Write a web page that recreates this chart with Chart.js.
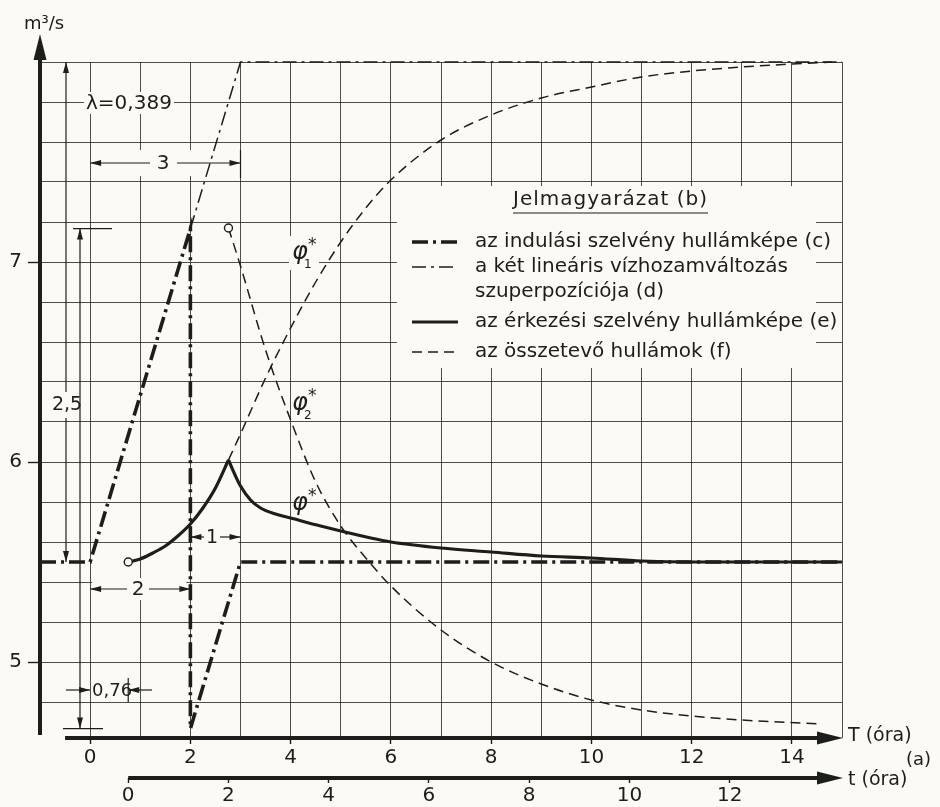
<!DOCTYPE html>
<html>
<head>
<meta charset="utf-8">
<script src="https://cdn.jsdelivr.net/npm/chart.js@4.4.1/dist/chart.umd.min.js"></script>
<style>
  html, body { margin: 0; padding: 0; background: #fbfaf5; }
  #wrap { width: 940px; height: 807px; position: relative; }
</style>
</head>
<body>
<div id="wrap"><canvas id="hydro"></canvas></div>
<script>
// axes: T (óra) grid and labels, t (óra) labels, Q (m3/s) grid and labels
const gridT = [-1, 0, 1, 2, 3, 4, 5, 6, 7, 8, 9, 10, 11, 12, 13, 14, 15];
const labelT = [0, 2, 4, 6, 8, 10, 12, 14];
const labelSmallT = [0, 2, 4, 6, 8, 10, 12];
const tShift = 0.76;
const gridQ = [4.8, 5, 5.2, 5.4, 5.6, 5.8, 6, 6.2, 6.4, 6.6, 6.8, 7, 7.2, 7.4, 7.6, 7.8, 8];
const labelQ = [5, 6, 7];

// (c) az indulási szelvény hullámképe
const inflowT = [-1, 0, 2, 2, 3, 15];
const inflowQ = [5.5, 5.5, 7.167, 4.667, 5.5, 5.5];

// (d) a két lineáris vízhozamváltozás szuperpozíciója
const superT = [2, 3, 15];
const superQ = [7.167, 8.0, 8.0];

// (e) az érkezési szelvény hullámképe (rising and falling limb)
const outRiseT = [0.76, 1.0, 1.25, 1.5, 1.75, 2.0, 2.25, 2.5, 2.76];
const outRiseQ = [5.5, 5.515, 5.545, 5.58, 5.63, 5.69, 5.77, 5.87, 6.01];
const outFallT = [2.76, 2.9, 3.0, 3.2, 3.4, 3.7, 4.0, 4.6, 5.6, 6, 7, 8, 9, 10, 11, 12, 15];
const outFallQ = [6.01, 5.93, 5.88, 5.81, 5.77, 5.74, 5.72, 5.68, 5.62, 5.60, 5.57, 5.55, 5.53, 5.52, 5.505, 5.5, 5.5];

// (f) az összetevő hullámok
const phi1T = [2.76, 3.0, 3.5, 4.0, 4.5, 5.0, 5.5, 6, 7, 8, 9, 10, 11, 12, 13, 14, 14.8];
const phi1Q = [6.01, 6.14, 6.42, 6.67, 6.9, 7.1, 7.27, 7.41, 7.61, 7.735, 7.82, 7.875, 7.925, 7.955, 7.975, 7.99, 8.0];
const phi2T = [2.76, 3.0, 3.5, 4.0, 4.5, 5.0, 5.5, 6, 7, 8, 9, 10, 11, 12, 13, 14.6];
const phi2Q = [7.17, 6.98, 6.56, 6.21, 5.90, 5.68, 5.52, 5.38, 5.16, 5.0, 4.89, 4.81, 4.76, 4.73, 4.71, 4.69];

const ink = '#1d1d1b';
const paper = '#fbfaf5';
const gridInk = 'rgba(29,29,27,0.78)';
const face = '"DejaVu Sans", sans-serif';
const none = 'rgba(0,0,0,0)';

const styleC = { width: 3.6, dash: [16, 5, 3, 5] };
const styleD = { width: 1.5, dash: [14, 5, 3, 5] };
const styleE = { width: 3.2, dash: [] };
const styleF = { width: 1.5, dash: [10, 6] };

function zip(xs, ys) {
    return xs.map((x, i) => ({ x: x, y: ys[i] }));
}

function arrow(ctx, x, y, dx, dy, len, half) {
    ctx.beginPath();
    ctx.moveTo(x, y);
    ctx.lineTo(x - dx * len - dy * half, y - dy * len + dx * half);
    ctx.lineTo(x - dx * len + dy * half, y - dy * len - dx * half);
    ctx.closePath();
    ctx.fill();
}

function seg(ctx, x1, y1, x2, y2) {
    ctx.beginPath();
    ctx.moveTo(x1, y1);
    ctx.lineTo(x2, y2);
    ctx.stroke();
}

function text(ctx, s, x, y, size, align) {
    ctx.font = size + 'px ' + face;
    ctx.textAlign = align || 'left';
    ctx.textBaseline = 'middle';
    ctx.fillText(s, x, y);
}

const decorations = {
    id: 'decorations',
    beforeDatasetsDraw(chart) {
        const ctx = chart.ctx;
        const X = v => chart.scales.x.getPixelForValue(v);
        const Y = v => chart.scales.y.getPixelForValue(v);
        ctx.save();
        ctx.fillStyle = paper;
        // legend panel covers the grid
        ctx.fillRect(X(6.12), Y(7.38), X(14.48) - X(6.12), Y(6.47) - Y(7.38));
        // gaps behind labels
        ctx.fillRect(84, 92, 90, 22);
        ctx.fillRect(X(0) + 2, 150, X(3) - X(0) - 4, 26);
        ctx.fillRect(X(0) + 2, 578, X(2) - X(0) - 6, 22);
        ctx.fillRect(X(2) + 2, 527, X(3) - X(2) - 4, 20);
        ctx.fillRect(X(0) + 2, 680, X(0.76) - X(0) - 2, 20);
        ctx.fillRect(52, 392, 30, 26);
        ctx.fillRect(289, 236, 30, 34);
        ctx.restore();
    },
    afterDraw(chart) {
        const ctx = chart.ctx;
        const X = v => chart.scales.x.getPixelForValue(v);
        const Y = v => chart.scales.y.getPixelForValue(v);
        const area = chart.chartArea;
        const tTop = chart.scales.x2.top;
        ctx.save();
        ctx.strokeStyle = ink;
        ctx.fillStyle = ink;
        ctx.lineCap = 'butt';

        // heavy axes with arrow heads
        ctx.lineWidth = 4;
        seg(ctx, area.left, area.bottom - 3, area.left, 56);
        arrow(ctx, area.left, 34, 0, -1, 26, 6.5);
        seg(ctx, X(-0.5), area.bottom, X(14.6), area.bottom);
        arrow(ctx, X(15.02), area.bottom, 1, 0, 26, 6.5);
        seg(ctx, X(tShift), tTop, X(14.6), tTop);
        arrow(ctx, X(15.02), tTop, 1, 0, 26, 6.5);

        text(ctx, 'm³/s', 44, 24, 18, 'center');
        text(ctx, 'T (óra)', 848, area.bottom - 2, 19);
        text(ctx, 't (óra)', 848, tTop + 2, 19);
        text(ctx, '(a)', 906, (area.bottom + tTop) / 2 + 2, 18);

        // dimension lines
        ctx.lineWidth = 1.2;
        const dimH = (x1, x2, y, g1, g2) => {
            seg(ctx, x1, y, g1, y);
            seg(ctx, g2, y, x2, y);
            arrow(ctx, x1, y, -1, 0, 11, 3);
            arrow(ctx, x2, y, 1, 0, 11, 3);
        };
        const dimV = (x, y1, y2, g1, g2) => {
            if (g1 === undefined) {
                seg(ctx, x, y1, x, y2);
            } else {
                seg(ctx, x, y1, x, g1);
                seg(ctx, x, g2, x, y2);
            }
            arrow(ctx, x, y1, 0, -1, 11, 3);
            arrow(ctx, x, y2, 0, 1, 11, 3);
        };
        seg(ctx, X(3), 150, X(3), 178);
        dimH(X(0), X(3), 163, 150, 177);
        text(ctx, '3', 163, 164, 20, 'center');
        dimH(X(0), X(2), 589, 127, 149);
        text(ctx, '2', 138, 590, 20, 'center');
        dimH(X(2), X(3), 537, 204, 220);
        text(ctx, '1', 212, 538, 19, 'center');

        seg(ctx, 66, 690, X(0), 690);
        arrow(ctx, X(0), 690, 1, 0, 11, 3);
        seg(ctx, 152, 690, X(tShift), 690);
        arrow(ctx, X(tShift), 690, -1, 0, 11, 3);
        seg(ctx, X(tShift), 678, X(tShift), 702);
        text(ctx, '0,76', 92, 691, 18);

        dimV(66, Y(8.0), Y(5.5), 392, 418);
        text(ctx, '2,5', 67, 405, 19, 'center');
        dimV(80, Y(7.167), Y(4.667));
        seg(ctx, 73, Y(7.167), 112, Y(7.167));
        seg(ctx, 63, Y(4.667), 103, Y(4.667));

        text(ctx, 'λ=0,389', 86, 104, 20);

        // curve labels
        ctx.font = 'italic 24px ' + face;
        ctx.textAlign = 'left';
        ctx.textBaseline = 'alphabetic';
        ctx.fillText('φ', 292, 259);
        ctx.fillText('φ', 292, 410);
        ctx.fillText('φ', 292, 510);
        text(ctx, '1', 304, 265, 12);
        text(ctx, '2', 304, 416, 12);
        text(ctx, '*', 308, 246, 17);
        text(ctx, '*', 308, 397, 17);
        text(ctx, '*', 308, 497, 17);

        // legend (Jelmagyarázat)
        ctx.letterSpacing = '1px';
        text(ctx, 'Jelmagyarázat (b)', 513, 200, 20);
        const titleW = ctx.measureText('Jelmagyarázat (b)').width;
        ctx.letterSpacing = '0px';
        ctx.lineWidth = 1.2;
        seg(ctx, 513, 213, 513 + titleW, 213);
        const rows = [
            { y: 242, style: styleC, label: 'az indulási szelvény hullámképe (c)' },
            { y: 267, style: styleD, label: 'a két lineáris vízhozamváltozás' },
            { y: 292, style: null, label: 'szuperpozíciója (d)' },
            { y: 322, style: styleE, label: 'az érkezési szelvény hullámképe (e)' },
            { y: 352, style: styleF, label: 'az összetevő hullámok (f)' }
        ];
        rows.forEach(r => {
            if (r.style) {
                ctx.lineWidth = r.style.width;
                ctx.setLineDash(r.style.dash);
                seg(ctx, 412, r.y, 458, r.y);
                ctx.setLineDash([]);
            }
            text(ctx, r.label, 475, r.y, 20);
        });
        ctx.restore();
    }
};

const tickFont = { family: face, size: 20 };

new Chart(document.getElementById('hydro'), {
    type: 'scatter',
    data: {
        datasets: [
            {
                data: zip(outRiseT, outRiseQ), showLine: true, cubicInterpolationMode: 'monotone',
                borderColor: ink, borderWidth: styleE.width, clip: false,
                pointRadius: outRiseT.map((v, i) => i === 0 ? 4 : 0),
                pointBackgroundColor: paper, pointBorderColor: ink, pointBorderWidth: 1.4
            },
            {
                data: zip(outFallT, outFallQ), showLine: true, cubicInterpolationMode: 'monotone',
                borderColor: ink, borderWidth: styleE.width, pointRadius: 0, clip: false
            },
            {
                data: zip(inflowT, inflowQ), showLine: true, tension: 0,
                borderColor: ink, borderWidth: styleC.width, borderDash: styleC.dash, pointRadius: 0, clip: false
            },
            {
                data: zip(superT, superQ), showLine: true, tension: 0,
                borderColor: ink, borderWidth: styleD.width, borderDash: styleD.dash, pointRadius: 0, clip: false
            },
            {
                data: zip(phi1T, phi1Q), showLine: true, cubicInterpolationMode: 'monotone',
                borderColor: ink, borderWidth: styleF.width, borderDash: styleF.dash, pointRadius: 0, clip: false
            },
            {
                data: zip(phi2T, phi2Q), showLine: true, cubicInterpolationMode: 'monotone',
                borderColor: ink, borderWidth: styleF.width, borderDash: styleF.dash, clip: false,
                pointRadius: phi2T.map((v, i) => i === 0 ? 4 : 0),
                pointBackgroundColor: paper, pointBorderColor: ink, pointBorderWidth: 1.4
            }
        ]
    },
    options: {
        responsive: true,
        maintainAspectRatio: false,
        animation: false,
        events: [],
        layout: { padding: { top: 62, right: 98, left: 0, bottom: 0 } },
        plugins: { legend: { display: false }, tooltip: { enabled: false } },
        scales: {
            x: {
                type: 'linear', position: 'bottom', min: -1, max: 15, weight: 0,
                afterBuildTicks: s => { s.ticks = gridT.map(v => ({ value: v })); },
                afterFit: s => { s.height = 40; },
                border: { display: false },
                grid: {
                    color: c => (c.tick && c.tick.value === -1) ? none : gridInk,
                    tickColor: c => (c.tick && labelT.includes(c.tick.value)) ? ink : none,
                    lineWidth: 1, tickLength: 6, tickWidth: 1.4
                },
                ticks: {
                    autoSkip: false, maxRotation: 0, padding: 2, color: ink, font: tickFont,
                    callback: v => labelT.includes(v) ? String(v) : ''
                }
            },
            x2: {
                type: 'linear', position: 'bottom', min: -1 - tShift, max: 15 - tShift, weight: 1,
                afterBuildTicks: s => { s.ticks = labelSmallT.map(v => ({ value: v })); },
                afterFit: s => { s.height = 29; },
                border: { display: false },
                grid: { drawOnChartArea: false, tickColor: ink, tickLength: 5, tickWidth: 1.4 },
                ticks: {
                    autoSkip: false, maxRotation: 0, padding: 1, color: ink, font: tickFont,
                    callback: v => String(v)
                }
            },
            y: {
                type: 'linear', min: 4.62, max: 8.0,
                afterBuildTicks: s => { s.ticks = gridQ.map(v => ({ value: v })); },
                afterFit: s => { s.width = 40; },
                border: { display: false },
                grid: {
                    color: gridInk, lineWidth: 1, tickLength: 12, tickWidth: 1.4,
                    tickColor: c => (c.tick && labelQ.includes(c.tick.value)) ? ink : none
                },
                ticks: {
                    padding: 6, color: ink, font: tickFont,
                    callback: v => labelQ.includes(v) ? String(v) : ''
                }
            }
        }
    },
    plugins: [decorations]
});
</script>
</body>
</html>
